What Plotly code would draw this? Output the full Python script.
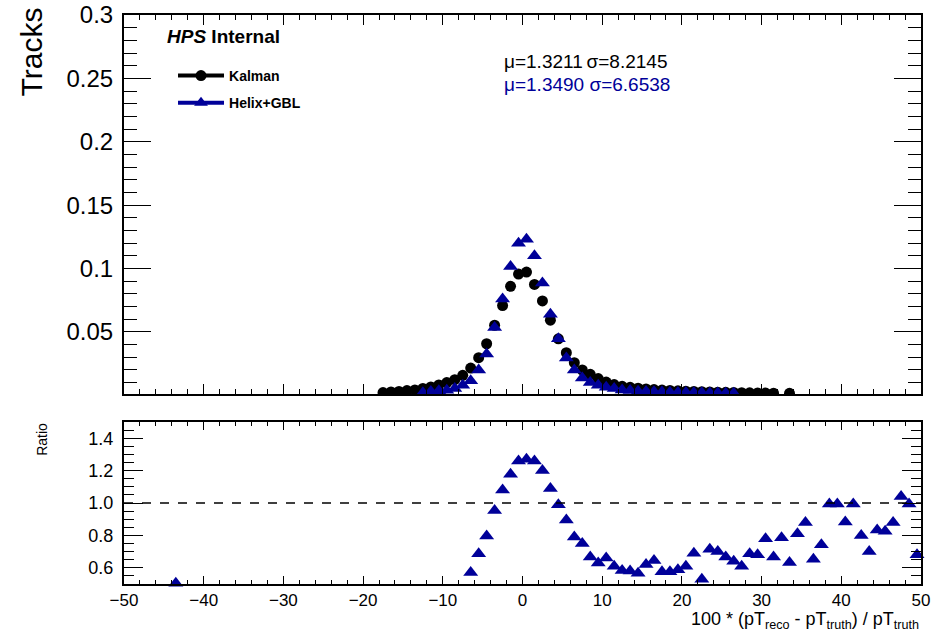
import plotly.graph_objects as go

# ---------------- data ----------------
kalman_x = [-17.5 + i for i in range(50)] + [33.5]
kalman_y = [0.0021, 0.0026, 0.0030, 0.0037, 0.0042, 0.0053, 0.0065, 0.0081, 0.0100, 0.0123,
            0.0157, 0.0214, 0.0296, 0.0406, 0.0552, 0.0707, 0.0859, 0.0956, 0.0972, 0.0874,
            0.0744, 0.0592, 0.0445, 0.0335, 0.0257, 0.0199, 0.0165, 0.0131, 0.0104, 0.0084,
            0.0070, 0.0062, 0.0055, 0.0050, 0.0045, 0.0041, 0.0038, 0.0035, 0.0032, 0.0030,
            0.0028, 0.0026, 0.0024, 0.0023, 0.0022, 0.0020, 0.0019, 0.0018, 0.0017, 0.0016,
            0.0015]

helix_x = [-12.5 + i for i in range(40)]
helix_y = [0.0020, 0.0030, 0.0035, 0.0040, 0.0053, 0.0079, 0.0115, 0.0199, 0.0325, 0.0534,
           0.0760, 0.1016, 0.1200, 0.1230, 0.1100, 0.0885, 0.0639, 0.0445, 0.0293, 0.0199,
           0.0136, 0.0100, 0.0079, 0.0063, 0.0053, 0.0042, 0.0037, 0.0032, 0.0030, 0.0028,
           0.0025, 0.0023, 0.0022, 0.0021, 0.0020, 0.0019, 0.0018, 0.0017, 0.0016, 0.0015]

ratio_x = [-43.5] + [-6.5 + i for i in range(57)]
ratio_y = [0.505,
           0.571, 0.686, 0.797, 0.953, 1.080, 1.178, 1.260, 1.270, 1.260, 1.200,
           1.090, 0.990, 0.895, 0.790, 0.750, 0.666, 0.630, 0.660, 0.610, 0.583,
           0.580, 0.567, 0.620, 0.645, 0.575, 0.575, 0.588, 0.610, 0.690, 0.530,
           0.715, 0.700, 0.666, 0.640, 0.610, 0.686, 0.680, 0.780, 0.666, 0.785,
           0.633, 0.810, 0.880, 0.653, 0.743, 0.994, 0.994, 0.883, 0.994, 0.800,
           0.700, 0.834, 0.826, 0.880, 1.040, 0.994, 0.680]

stats_kalman = "\u03bc=1.3211\u2009\u03c3=8.2145"
stats_helix = "\u03bc=1.3490 \u03c3=6.6538"

BLUE = "#000099"
FONT = "Liberation Sans, Arial, sans-serif"

# ---------------- figure ----------------
fig = go.Figure()

fig.add_trace(go.Scatter(x=kalman_x, y=kalman_y, mode="markers", name="Kalman",
                         marker=dict(symbol="circle", size=11, color="black"),
                         xaxis="x", yaxis="y", showlegend=False))
fig.add_trace(go.Scatter(x=helix_x, y=helix_y, mode="markers", name="Helix+GBL",
                         marker=dict(symbol="triangle-up", size=13, color=BLUE),
                         xaxis="x", yaxis="y", showlegend=False))
# legend entries
fig.add_trace(go.Scatter(x=[None], y=[None], mode="lines+markers", name="Kalman",
                         line=dict(color="black", width=4),
                         marker=dict(symbol="circle", size=11, color="black"),
                         legendgroup="a", showlegend=True))
fig.add_trace(go.Scatter(x=[None], y=[None], mode="lines+markers", name="Helix+GBL",
                         line=dict(color=BLUE, width=4),
                         marker=dict(symbol="triangle-up", size=12, color=BLUE),
                         legendgroup="b", showlegend=True))

fig.add_trace(go.Scatter(x=ratio_x, y=ratio_y, mode="markers", name="ratio",
                         marker=dict(symbol="triangle-up", size=13, color=BLUE),
                         xaxis="x2", yaxis="y2", showlegend=False, cliponaxis=False))

axis_common = dict(showline=True, linecolor="black", linewidth=2, mirror="ticks",
                   ticks="inside", tickcolor="black", showgrid=False, zeroline=False,
                   automargin=False)

fig.update_layout(
    width=936, height=639,
    margin=dict(l=124, r=15, t=15, b=55, autoexpand=False),
    paper_bgcolor="white", plot_bgcolor="white",
    font=dict(family=FONT, color="black"),
    xaxis=dict(domain=[0, 1], anchor="y", range=[-50, 50], dtick=10, tick0=0,
               showticklabels=False, ticklen=10, tickwidth=1,
               minor=dict(dtick=2, ticklen=5, ticks="inside", tickcolor="black"),
               **axis_common),
    yaxis=dict(domain=[0.334, 1], anchor="x", range=[0.001, 0.3], dtick=0.05, tick0=0,
               ticklen=27, tickwidth=1, tickfont=dict(size=24), ticklabelstandoff=4,
               minor=dict(dtick=0.01, ticklen=13, ticks="inside", tickcolor="black"),
               **axis_common),
    xaxis2=dict(domain=[0, 1], anchor="y2", range=[-50, 50], dtick=10, tick0=0,
                ticklen=8, tickwidth=1, tickfont=dict(size=17),
                minor=dict(dtick=2, ticklen=4, ticks="inside", tickcolor="black"),
                **axis_common),
    yaxis2=dict(domain=[0, 0.2847], anchor="x2", range=[0.5, 1.5], dtick=0.2, tick0=0,
                tickformat=".1f", ticklen=19, tickwidth=1, tickfont=dict(size=18),
                ticklabelstandoff=5,
                minor=dict(dtick=0.05, ticklen=10, ticks="inside", tickcolor="black"),
                **axis_common),
    legend=dict(x=0.0615, y=0.921, xanchor="left", yanchor="top",
                bgcolor="rgba(0,0,0,0)", font=dict(size=14, family=FONT, weight="bold"),
                tracegroupgap=6, itemwidth=46),
)

# dashed reference line at ratio = 1
fig.add_shape(type="line", xref="x2 domain", yref="y2", x0=0, x1=1, y0=1, y1=1,
              line=dict(color="black", width=1.5, dash="dash"))

# texts
fig.add_annotation(xref="paper", yref="paper", x=-0.1167, y=0.936, xanchor="center",
                   yanchor="middle", text="Tracks", textangle=-90, showarrow=False,
                   font=dict(size=30))
fig.add_annotation(xref="paper", yref="paper", x=-0.103, y=0.255, xanchor="center",
                   yanchor="middle", text="Ratio", textangle=-90, showarrow=False,
                   font=dict(size=14))
fig.add_annotation(xref="paper", yref="paper", x=1.0, y=-0.04, xanchor="right",
                   yanchor="top",
                   text="100 * (pT<sub>reco</sub> - pT<sub>truth</sub>) / pT<sub>truth</sub>",
                   showarrow=False, font=dict(size=18))
fig.add_annotation(xref="paper", yref="paper", x=0.052, y=0.963, xanchor="left",
                   yanchor="middle", text="<b><i>HPS</i> Internal</b>", showarrow=False,
                   font=dict(size=19))
fig.add_annotation(xref="paper", yref="paper", x=0.474, y=0.919, xanchor="left",
                   yanchor="middle", text=stats_kalman, showarrow=False,
                   font=dict(size=19, color="black"))
fig.add_annotation(xref="paper", yref="paper", x=0.474, y=0.8787, xanchor="left",
                   yanchor="middle", text=stats_helix, showarrow=False,
                   font=dict(size=19, color=BLUE))

fig.write_html("out.html")
